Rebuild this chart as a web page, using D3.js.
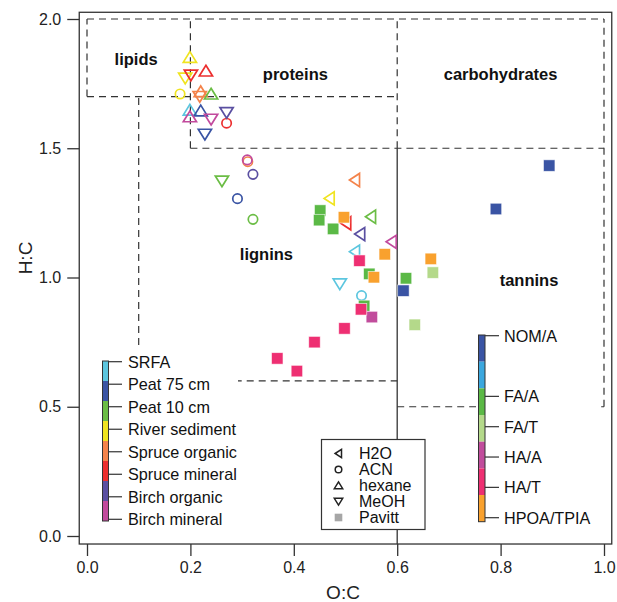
<!DOCTYPE html>
<html>
<head>
<meta charset="utf-8">
<script src="https://cdn.jsdelivr.net/npm/d3@7"></script>
<style>
  html, body { margin: 0; padding: 0; background: #fff; }
  svg { display: block; font-family: "Liberation Sans", Arial, Helvetica, sans-serif; }
</style>
</head>
<body>
<svg id="chart" width="617" height="602"></svg>
<script>
// ---------------- DATA ----------------
const samples = ["SRFA", "Peat 75 cm", "Peat 10 cm", "River sediment", "Spruce organic", "Spruce mineral", "Birch organic", "Birch mineral"];
const sampleColors = ["#5cc6df", "#3a54a4", "#6bbd45", "#f0e420", "#f4834a", "#ec2f2f", "#5a4fa1", "#c24a9d"];

const solvents = ["H2O", "ACN", "hexane", "MeOH"];

// [sample, O:C, H:C]
const h2oPoints = [
  ["Spruce organic", 0.518, 1.377],
  ["River sediment", 0.469, 1.306],
  ["Peat 10 cm", 0.549, 1.235],
  ["Spruce mineral", 0.501, 1.210],
  ["Birch organic", 0.528, 1.168],
  ["Birch mineral", 0.589, 1.138],
  ["SRFA", 0.518, 1.100]
];
const acnPoints = [
  ["River sediment", 0.180, 1.710],
  ["Spruce mineral", 0.270, 1.597],
  ["Spruce organic", 0.311, 1.448],
  ["Birch mineral", 0.310, 1.455],
  ["Birch organic", 0.321, 1.399],
  ["Peat 75 cm", 0.291, 1.305],
  ["Peat 10 cm", 0.321, 1.225],
  ["SRFA", 0.531, 0.930]
];
const hexanePoints = [
  ["River sediment", 0.199, 1.852],
  ["Spruce mineral", 0.230, 1.799],
  ["Spruce organic", 0.220, 1.719],
  ["Peat 10 cm", 0.240, 1.710],
  ["SRFA", 0.199, 1.648],
  ["Peat 75 cm", 0.220, 1.645],
  ["Birch mineral", 0.199, 1.622]
];
const meohPoints = [
  ["River sediment", 0.190, 1.771],
  ["Spruce mineral", 0.201, 1.783],
  ["Spruce organic", 0.218, 1.700],
  ["Birch mineral", 0.240, 1.612],
  ["Birch organic", 0.270, 1.638],
  ["Peat 75 cm", 0.228, 1.554],
  ["Peat 10 cm", 0.261, 1.373],
  ["SRFA", 0.489, 0.975]
];

const pavittClasses = ["NOM/A", "", "FA/A", "FA/T", "HA/A", "HA/T", "HPOA/TPIA"];
const pavittColors = ["#3a54a4", "#3ba7de", "#5bb946", "#b4d98a", "#c14c9c", "#ee2f72", "#f9a12e"];
// [class, O:C, H:C]
const pavittPoints = [
  ["NOM/A", 0.894, 1.433],
  ["NOM/A", 0.791, 1.265],
  ["NOM/A", 0.612, 0.949],
  ["FA/A", 0.451, 1.259],
  ["FA/A", 0.449, 1.222],
  ["FA/A", 0.476, 1.188],
  ["FA/A", 0.546, 1.014],
  ["FA/A", 0.617, 0.997],
  ["FA/A", 0.536, 0.890],
  ["FA/T", 0.669, 1.019],
  ["FA/T", 0.634, 0.817],
  ["HA/A", 0.551, 0.847],
  ["HA/T", 0.527, 1.065],
  ["HA/T", 0.530, 0.877],
  ["HA/T", 0.498, 0.803],
  ["HA/T", 0.440, 0.750],
  ["HA/T", 0.368, 0.687],
  ["HA/T", 0.406, 0.638],
  ["HPOA/TPIA", 0.497, 1.233],
  ["HPOA/TPIA", 0.576, 1.090],
  ["HPOA/TPIA", 0.665, 1.072],
  ["HPOA/TPIA", 0.555, 1.001]
];

const xTicks = [0.0, 0.2, 0.4, 0.6, 0.8, 1.0];
const yTicks = [0.0, 0.5, 1.0, 1.5, 2.0];

// Van Krevelen region boundaries: [x1, y1, x2, y2] (dashed)
const regionLines = [
  [0, 2.0, 1.0, 2.0],
  [0, 1.7, 0, 2.0],
  [0, 1.7, 0.6, 1.7],
  [0.2, 1.5, 0.2, 2.0],
  [0.2, 1.5, 1.0, 1.5],
  [0.6, 1.5, 0.6, 2.0],
  [1.0, 0.5, 1.0, 2.0],
  [0.1, 0.6, 0.1, 1.7],
  [0.1, 0.6, 0.6, 0.6],
  [0.6, 0.5, 1.0, 0.5]
];
const solidLine = [0.6, -0.031, 0.6, 1.5];
const regionLabels = [
  ["lipids", 0.095, 1.84],
  ["proteins", 0.403, 1.78],
  ["carbohydrates", 0.80, 1.78],
  ["lignins", 0.347, 1.085],
  ["tannins", 0.855, 0.985]
];

// ---------------- SCALES ----------------
const svg = d3.select("#chart");
const x = d3.scaleLinear().domain([0, 1]).range([87, 604]);
const y = d3.scaleLinear().domain([0, 2]).range([536, 19]);
const frameX = [-0.015, 1.015];
const frameY = [-0.031, 2.026];

const font = "'Liberation Sans', Arial, Helvetica, sans-serif";

// region lines
svg.append("g").selectAll("line").data(regionLines).join("line")
  .attr("x1", d => x(d[0])).attr("y1", d => y(d[1]))
  .attr("x2", d => x(d[2])).attr("y2", d => y(d[3]))
  .attr("stroke", "#333").attr("stroke-width", 1.2)
  .attr("stroke-dasharray", "7,5");

svg.append("line")
  .attr("x1", x(solidLine[0])).attr("y1", y(solidLine[1]))
  .attr("x2", x(solidLine[2])).attr("y2", y(solidLine[3]))
  .attr("stroke", "#333").attr("stroke-width", 1.3);

// region labels
svg.append("g").selectAll("text").data(regionLabels).join("text")
  .attr("x", d => x(d[1])).attr("y", d => y(d[2]))
  .attr("text-anchor", "middle").attr("dominant-baseline", "middle")
  .attr("font-size", 16.5).attr("font-weight", "bold").attr("fill", "#111")
  .text(d => d[0]);

// ---------------- MARKERS ----------------
function markerPath(type, r) {
  if (type === "H2O") { // left-pointing triangle
    return `M${-r * 0.85},0 L${r * 0.75},${-r * 1.05} L${r * 0.75},${r * 1.05} Z`;
  }
  if (type === "hexane") {
    return `M0,${-r * 0.9} L${r * 1.05},${r * 0.8} L${-r * 1.05},${r * 0.8} Z`;
  }
  if (type === "MeOH") {
    return `M0,${r * 0.9} L${r * 1.05},${-r * 0.8} L${-r * 1.05},${-r * 0.8} Z`;
  }
  return null;
}
const sampleColor = d3.scaleOrdinal().domain(samples).range(sampleColors);
const pavittColor = d3.scaleOrdinal().domain(pavittClasses).range(pavittColors);

const openSets = [["H2O", h2oPoints], ["ACN", acnPoints], ["hexane", hexanePoints], ["MeOH", meohPoints]];
const gOpen = svg.append("g");
openSets.forEach(([solv, pts]) => {
  pts.forEach(p => {
    const cx = x(p[1]), cy = y(p[2]);
    if (solv === "ACN") {
      gOpen.append("circle").attr("cx", cx).attr("cy", cy).attr("r", 4.7)
        .attr("fill", "none").attr("stroke", sampleColor(p[0])).attr("stroke-width", 1.7);
    } else {
      gOpen.append("path").attr("d", markerPath(solv, 6.3))
        .attr("transform", `translate(${cx},${cy})`)
        .attr("fill", "none").attr("stroke", sampleColor(p[0])).attr("stroke-width", 1.7)
        .attr("stroke-linejoin", "miter");
    }
  });
});

const sq = 11.5;
svg.append("g").selectAll("rect").data(pavittPoints).join("rect")
  .attr("x", d => x(d[1]) - sq / 2).attr("y", d => y(d[2]) - sq / 2)
  .attr("width", sq).attr("height", sq)
  .attr("fill", d => pavittColor(d[0]))
  .attr("stroke", "#fff").attr("stroke-opacity", 0.7).attr("stroke-width", 0.8);

// ---------------- LEGENDS ----------------
// sample colour bar (left)
const leftBar = { x: 102.5, top: 361, h: 160, w: 6 };
const segH = leftBar.h / samples.length;
const gL = svg.append("g");
gL.append("rect").attr("x", 96).attr("y", 350).attr("width", 142).attr("height", 182).attr("fill", "#fff");
samples.forEach((s, i) => {
  gL.append("rect").attr("x", leftBar.x).attr("y", leftBar.top + i * segH)
    .attr("width", leftBar.w).attr("height", segH).attr("fill", sampleColors[i]);
});
gL.append("rect").attr("x", leftBar.x).attr("y", leftBar.top).attr("width", leftBar.w).attr("height", leftBar.h)
  .attr("fill", "none").attr("stroke", "#333").attr("stroke-width", 1);
const leftTickY = d3.scalePoint().domain(samples).range([361.7, 519.3]);
samples.forEach(s => {
  const ty = leftTickY(s);
  gL.append("line").attr("x1", leftBar.x + leftBar.w).attr("x2", 122).attr("y1", ty).attr("y2", ty)
    .attr("stroke", "#333").attr("stroke-width", 1.2);
  gL.append("text").attr("x", 128).attr("y", ty).attr("dominant-baseline", "central")
    .attr("font-size", 16.2).attr("fill", "#111").text(s);
});

// Pavitt colour bar (right)
const rightBar = { x: 478.5, top: 335, h: 186.7, w: 6.5 };
const segH2 = rightBar.h / pavittClasses.length;
const gR = svg.append("g");
gR.append("rect").attr("x", 476).attr("y", 326).attr("width", 124).attr("height", 204).attr("fill", "#fff");
pavittClasses.forEach((c, i) => {
  gR.append("rect").attr("x", rightBar.x).attr("y", rightBar.top + i * segH2)
    .attr("width", rightBar.w).attr("height", segH2).attr("fill", pavittColors[i]);
});
gR.append("rect").attr("x", rightBar.x).attr("y", rightBar.top).attr("width", rightBar.w).attr("height", rightBar.h)
  .attr("fill", "none").attr("stroke", "#333").attr("stroke-width", 1);
const rightTickY = d3.scaleLinear().domain([0, pavittClasses.length - 1]).range([335.7, 517.7]);
pavittClasses.forEach((c, i) => {
  if (!c) return;
  const ty = rightTickY(i);
  gR.append("line").attr("x1", rightBar.x + rightBar.w).attr("x2", 499).attr("y1", ty).attr("y2", ty)
    .attr("stroke", "#333").attr("stroke-width", 1.2);
  gR.append("text").attr("x", 504).attr("y", ty).attr("dominant-baseline", "central")
    .attr("font-size", 16.2).attr("fill", "#111").text(c);
});

// symbol legend (middle)
const legendItems = solvents.concat(["Pavitt"]);
const gM = svg.append("g");
gM.append("rect").attr("x", 321.5).attr("y", 439.5).attr("width", 103.5).attr("height", 90)
  .attr("fill", "#fff").attr("stroke", "#333").attr("stroke-width", 1.2);
const midY = d3.scalePoint().domain(legendItems).range([453.5, 517.5]);
legendItems.forEach(item => {
  const ty = midY(item), sx = 338.5;
  if (item === "ACN") {
    gM.append("circle").attr("cx", sx).attr("cy", ty).attr("r", 3.3)
      .attr("fill", "none").attr("stroke", "#222").attr("stroke-width", 1.5);
  } else if (item === "Pavitt") {
    gM.append("rect").attr("x", sx - 3.8).attr("y", ty - 3.8).attr("width", 7.6).attr("height", 7.6).attr("fill", "#a6a6a6");
  } else {
    gM.append("path").attr("d", markerPath(item, 4)).attr("transform", `translate(${sx},${ty})`)
      .attr("fill", "none").attr("stroke", "#222").attr("stroke-width", 1.5);
  }
  gM.append("text").attr("x", 359).attr("y", ty).attr("dominant-baseline", "central")
    .attr("font-size", 16).attr("fill", "#111").text(item);
});

// frame
svg.append("rect")
  .attr("x", x(frameX[0])).attr("y", y(frameY[1]))
  .attr("width", x(frameX[1]) - x(frameX[0]))
  .attr("height", y(frameY[0]) - y(frameY[1]))
  .attr("fill", "none").attr("stroke", "#333").attr("stroke-width", 1.3);

// axes
const yAxisX = x(frameX[0]);
const xAxisY = y(frameY[0]);
const yAxis = d3.axisLeft(y).tickValues(yTicks).tickFormat(d3.format(".1f")).tickSize(12).tickPadding(6);
const xAxis = d3.axisBottom(x).tickValues(xTicks).tickFormat(d3.format(".1f")).tickSize(12).tickPadding(6);
const gy = svg.append("g").attr("transform", `translate(${yAxisX},0)`).call(yAxis);
const gx = svg.append("g").attr("transform", `translate(0,${xAxisY})`).call(xAxis);
[gx, gy].forEach(g => {
  g.select(".domain").remove();
  g.selectAll(".tick line").attr("stroke", "#333").attr("stroke-width", 1.3);
  g.selectAll(".tick text").attr("font-size", 16).attr("font-family", font).attr("fill", "#222");
});

svg.append("text").attr("x", 343).attr("y", 599).attr("text-anchor", "middle")
  .attr("font-size", 19).attr("fill", "#222").text("O:C");
svg.append("text").attr("transform", "translate(32,258) rotate(-90)").attr("text-anchor", "middle")
  .attr("font-size", 19).attr("fill", "#222").text("H:C");
</script>
</body>
</html>
